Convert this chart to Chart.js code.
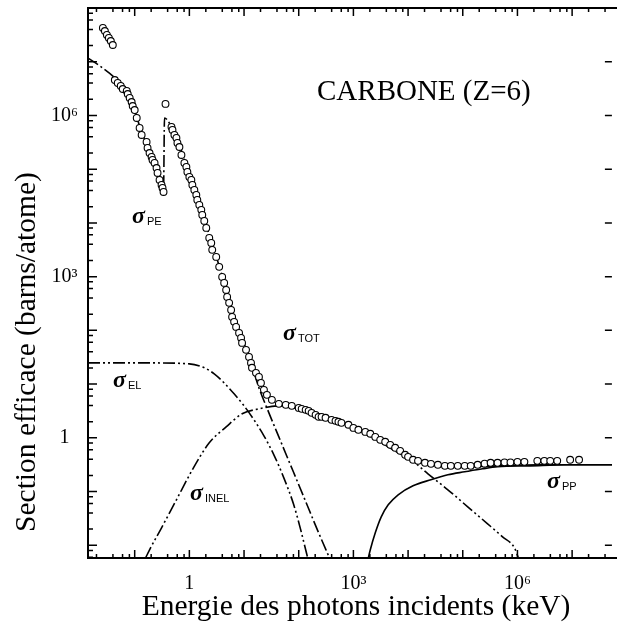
<!DOCTYPE html>
<html><head><meta charset="utf-8">
<script src="https://cdn.jsdelivr.net/npm/chart.js@4.4.1/dist/chart.umd.min.js"></script>
<style>html,body{margin:0;padding:0;background:#fff;} canvas{display:block;}</style>
</head><body>
<canvas id="c" width="617" height="632" style="width:617px;height:632px"></canvas>
<script>
// ---- data (energy in keV, cross sections in barns/atom) ----
const xTickValues = [1, 1e3, 1e6];
const xTickLabels = ['1', '10³', '10⁶'];
const yTickValues = [1, 1e3, 1e6];
const yTickLabels = ['1', '10³', '10⁶'];

// sigma_TOT measured points (open circles)
const totE = [0.0262,0.0285,0.031,0.0337,0.0366,0.0398,
  0.0433,0.049,0.0556,0.0605,0.0716,0.0746,0.081,0.088,0.092,0.1,0.109,0.123,0.134,0.165,0.172,0.187,0.204,0.212,0.231,0.251,0.262,0.285,0.31,0.323,0.337,
  0.366,
  0.471,0.491,0.533,0.58,0.605,0.658,0.716,0.811,0.882,0.92,1,1.087,1.134,1.233,1.34,1.397,1.52,1.652,1.722,1.874,2.037,2.31,2.512,2.619,3.097,3.511,3.981,4.33,4.708,4.909,5.337,5.802,6.05,6.58,7.155,8.11,8.82,9.2,10.87,12.33,13.4,13.97,16.52,18.74,20.37,23.1,26.2,32.3,43.3,58,74.6,
  100,113.4,134,152,172,203.7,231,261.9,309.7,398,470.8,533,605,811,1000,1233,1652,2037,2512,3097,3817,4708,5802,7155,8820,10000,12330,15200,20370,26200,
  35100,47080,60500,81100,1.087e5,1.397e5,1.874e5,2.51e5,3.23e5,4.33e5,5.8e5,7.46e5,1e6,1.34e6,2.31e6,3.1e6,3.98e6,5.34e6,9.2e6,1.34e7];
const totSigma = [4.25e7,3.73e7,3.15e7,2.77e7,2.43e7,2.05e7,
  4.57e6,4.03e6,3.54e6,3.11e6,2.86e6,2.51e6,2.12e6,1.78e6,1.5e6,1.26e6,8.98e5,5.85e5,4.34e5,3.21e5,2.49e5,2.0e5,1.69e5,1.49e5,1.31e5,1.05e5,8.51e4,6.31e4,5.09e4,4.48e4,3.77e4,
  1.64e6,
  6.11e5,5.37e5,4.34e5,3.81e5,3.08e5,2.59e5,1.84e5,1.31e5,1.10e5,8.89e4,7.18e4,6.31e4,5.09e4,4.11e4,3.32e4,2.68e4,2.16e4,1.75e4,1.41e4,1.09e4,8.07e3,5.26e3,4.25e3,3.15e3,2.33e3,1.52e3,989,765,566,420,325,240,178,144,116,89.8,72.5,58.5,43.4,32.1,24.8,20.1,16.2,13.6,10.5,7.82,6.31,5.09,4.29,4.11,3.94,
  3.61,3.46,3.32,3.18,2.92,2.68,2.46,2.46,2.36,2.16,2.07,1.99,1.90,1.75,1.53,1.41,1.29,1.19,1.04,0.918,0.843,0.741,0.652,0.573,0.483,0.443,0.39,0.373,0.343,0.328,
  0.315,0.301,0.301,0.301,0.301,0.301,0.315,0.33,0.343,0.343,0.35,0.35,0.357,0.357,0.373,0.373,0.373,0.373,0.39,0.39];

// sigma_PE (photoelectric), dash-dot
const peE = [0.014,0.0231,0.0433,0.081,0.123,0.187,0.285,0.337,0.351,0.471,0.658,1,1.52,2.31,3.511,5.337,8.11,12.33,18.74,28.48,43.3,65.8,100,152,231,366];
const peSigma = [1.17e7,8.34e6,4.99e6,2.31e6,6.38e5,2.09e5,7.18e4,4.11e4,8.98e5,6.11e5,2.83e5,7.82e4,2.36e4,5.98e3,1585,369,102,32.1,8.51,2.92,1.04,0.373,0.134,0.0478,0.0171,0.0058];

// sigma_EL (elastic / Rayleigh), dash-dot-dot
const elE = [0.014,0.187,1,1.874,2.848,4.33,6.58,10,15.2,23.1,35.1,53.4,81.1,108.7,134,146];
const elSigma = [24.8,24.8,23.8,20.1,15.5,10.5,6.59,3.94,2.16,1.09,0.483,0.18,0.0567,0.0194,0.00824,0.0058];

// sigma_INEL (Compton), dash-dot-dot
const inelE = [0.158,0.187,0.31,0.58,1.134,2.31,4.708,9.2,18.74,43.3,100,231,533,1233,2848,6580,11350,23100,53400,1.233e5,2.848e5,5.34e5,8.82e5,1.04e6];
const inelSigma = [0.0058,0.00824,0.0212,0.0703,0.254,0.807,1.60,2.80,3.46,3.94,3.46,2.80,2.07,1.41,0.879,0.526,0.39,0.214,0.108,0.052,0.0251,0.0144,0.00898,0.0058];

// sigma_PP (pair production), solid
const ppE = [1874,2037,2512,3228,4330,6580,12330,26200,53400,1.087e5,2.31e5,4.33e5,1.722e6,8.11e6,5.8e7];
const ppSigma = [0.0058,0.00824,0.0171,0.0339,0.0567,0.0871,0.128,0.166,0.205,0.233,0.265,0.289,0.301,0.315,0.315];

// sigma_TOT calculated, solid (under the circles)
const totLineE = [100,231,533,1233,2848,6580,15200,26200,47080,1.233e5,4.33e5,2.31e6,5.8e7];
const totLineSigma = [3.61,2.46,1.99,1.41,0.918,0.549,0.373,0.328,0.301,0.289,0.301,0.315,0.315];

// ---- helpers ----
const pts = (xs, ys) => xs.map((v, i) => ({x: v, y: ys[i]}));
const lineDs = (label, xs, ys, dash, order) => ({
  label, data: pts(xs, ys), showLine: true, pointRadius: 0, borderColor: '#000',
  borderWidth: 1.6, borderDash: dash, fill: false, tension: 0, cubicInterpolationMode: 'monotone', order
});

const SERIF = '"Liberation Serif", "Times New Roman", serif';
const SANS = '"Liberation Sans", Arial, sans-serif';

const annotations = [
  {sub: 'PE', x: 132, y: 223},
  {sub: 'TOT', x: 283, y: 340},
  {sub: 'EL', x: 113, y: 387},
  {sub: 'INEL', x: 190, y: 500},
  {sub: 'PP', x: 547, y: 488}
];

const decorPlugin = {
  id: 'decor',
  afterDraw(chart) {
    const {ctx, chartArea: a, scales: {x, y}} = chart;
    ctx.save();
    ctx.strokeStyle = '#000';
    ctx.fillStyle = '#000';
    // frame
    ctx.lineWidth = 2;
    ctx.beginPath();
    ctx.moveTo(a.left, a.top); ctx.lineTo(617, a.top);
    ctx.moveTo(a.left, a.top - 1); ctx.lineTo(a.left, a.bottom + 1);
    ctx.moveTo(a.left - 1, a.bottom); ctx.lineTo(617, a.bottom);
    ctx.stroke();
    // inward ticks
    ctx.lineWidth = 1.5;
    ctx.beginPath();
    for (let e = -3; e <= 9; e++) {
      for (const m of [1, 2, 4, 6, 8]) {
        const v = m * Math.pow(10, e);
        if (v > x.min && v < x.max) {
          const px = x.getPixelForValue(v);
          const len = m === 1 ? 8 : 4;
          ctx.moveTo(px, a.bottom); ctx.lineTo(px, a.bottom - len);
          ctx.moveTo(px, a.top); ctx.lineTo(px, a.top + len);
        }
        if (v > y.min && v < y.max) {
          const py = y.getPixelForValue(v);
          const len = m === 1 ? 9 : 5;
          ctx.moveTo(a.left, py); ctx.lineTo(a.left + len, py);
          if (m === 1) { ctx.moveTo(a.right, py); ctx.lineTo(a.right - 7, py); }
        }
      }
    }
    ctx.stroke();
    // title text
    ctx.font = '29px ' + SERIF;
    ctx.textBaseline = 'alphabetic';
    ctx.textAlign = 'left';
    ctx.fillText('CARBONE (Z=6)', 317, 100);
    // sigma labels
    for (const an of annotations) {
      ctx.font = 'italic bold 24px ' + SERIF;
      ctx.textAlign = 'left';
      ctx.fillText('σ', an.x, an.y);
      const w = ctx.measureText('σ').width;
      ctx.font = '11px ' + SANS;
      ctx.fillText(an.sub, an.x + w + 2, an.y + 2);
    }
    // axis titles
    ctx.font = '29.5px ' + SERIF;
    ctx.textAlign = 'center';
    ctx.textBaseline = 'middle';
    ctx.fillText('Energie des photons incidents (keV)', 356, 607);
    ctx.translate(27, 352);
    ctx.rotate(-Math.PI / 2);
    ctx.fillText('Section efficace (barns/atome)', 0, 0);
    ctx.restore();
  }
};

new Chart(document.getElementById('c'), {
  type: 'scatter',
  data: {
    datasets: [
      {label: 'σTOT', data: pts(totE, totSigma), pointRadius: 3.4, pointBorderWidth: 1.1,
       pointBorderColor: '#000', pointBackgroundColor: '#fff', showLine: false, order: 0},
      lineDs('σPE', peE, peSigma, [12, 3, 2, 3], 1),
      lineDs('σEL', elE, elSigma, [12, 3, 2, 3, 2, 3], 2),
      lineDs('σINEL', inelE, inelSigma, [12, 3, 2, 3, 2, 3], 3),
      lineDs('σPP', ppE, ppSigma, [], 4),
      lineDs('σTOT calc', totLineE, totLineSigma, [], 5)
    ]
  },
  options: {
    responsive: false, animation: false, devicePixelRatio: 1,
    layout: {padding: {top: 8, right: 2, left: 0, bottom: 0}},
    plugins: {legend: {display: false}, tooltip: {enabled: false}},
    scales: {
      x: {
        type: 'logarithmic', min: 0.014, max: 5.34e7,
        afterFit(s) { s.height = 74; s.paddingLeft = 0; s.paddingRight = 0; },
        afterBuildTicks(s) { s.ticks = xTickValues.map(v => ({value: v})); },
        grid: {display: false, drawTicks: false},
        border: {display: false},
        ticks: {
          autoSkip: false, maxRotation: 0, color: '#000', padding: 14,
          font: {family: SERIF, size: 20},
          callback: (v) => { const i = xTickValues.indexOf(v); return i >= 0 ? xTickLabels[i] : ''; }
        }
      },
      y: {
        type: 'logarithmic', min: 0.0058, max: 1e8,
        afterFit(s) { s.width = 88; s.paddingTop = 0; s.paddingBottom = 0; },
        afterBuildTicks(s) { s.ticks = yTickValues.map(v => ({value: v})); },
        grid: {display: false, drawTicks: false},
        border: {display: false},
        ticks: {
          autoSkip: false, color: '#000', padding: 10, crossAlign: 'center',
          font: {family: SERIF, size: 20},
          callback: (v) => { const i = yTickValues.indexOf(v); return i >= 0 ? yTickLabels[i] : ''; }
        }
      }
    }
  },
  plugins: [decorPlugin]
});
</script>
</body></html>
